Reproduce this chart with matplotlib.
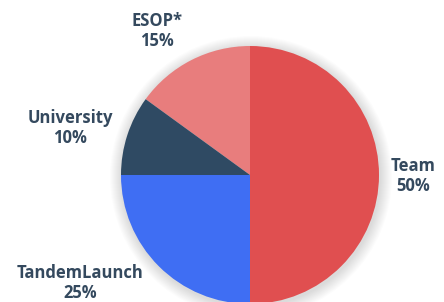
import matplotlib.pyplot as plt
from matplotlib.patches import Circle

# data (counterclockwise from the top)
labels = ["ESOP*", "University", "TandemLaunch", "Team"]
shares = [15, 10, 25, 50]
colors = ["#E87D7D", "#2F4A63", "#3F6EF3", "#E04F50"]

# label anchor points in pixel coords (x, y from top)
label_pos = [(157, 31), (70, 128), (80, 283), (413, 176)]

W, H = 444, 302
cx, cy, r = 250, 175, 129

fig = plt.figure(figsize=(W / 100, H / 100), dpi=100)
ax = fig.add_axes([0, 0, 1, 1])

# soft shadow around the pie
for i in range(12):
    ax.add_patch(Circle((cx + 1, H - cy - 2), r + 12 - i, color="black",
                        alpha=0.012, lw=0, zorder=0))

ax.pie(shares, colors=colors, startangle=90, counterclock=True,
       center=(cx, H - cy), radius=r, frame=True,
       wedgeprops=dict(linewidth=0))
ax.set_xlim(0, W)
ax.set_ylim(0, H)
ax.set_aspect("equal")
ax.axis("off")

for lab, s, (x, y) in zip(labels, shares, label_pos):
    ax.text(x, H - y, f"{lab}\n{s}%", ha="center", va="center",
            fontsize=12, fontweight="bold", color="#34495E",
            family=["Open Sans", "DejaVu Sans"], linespacing=1.2)

fig.savefig("out.png", dpi=100)
